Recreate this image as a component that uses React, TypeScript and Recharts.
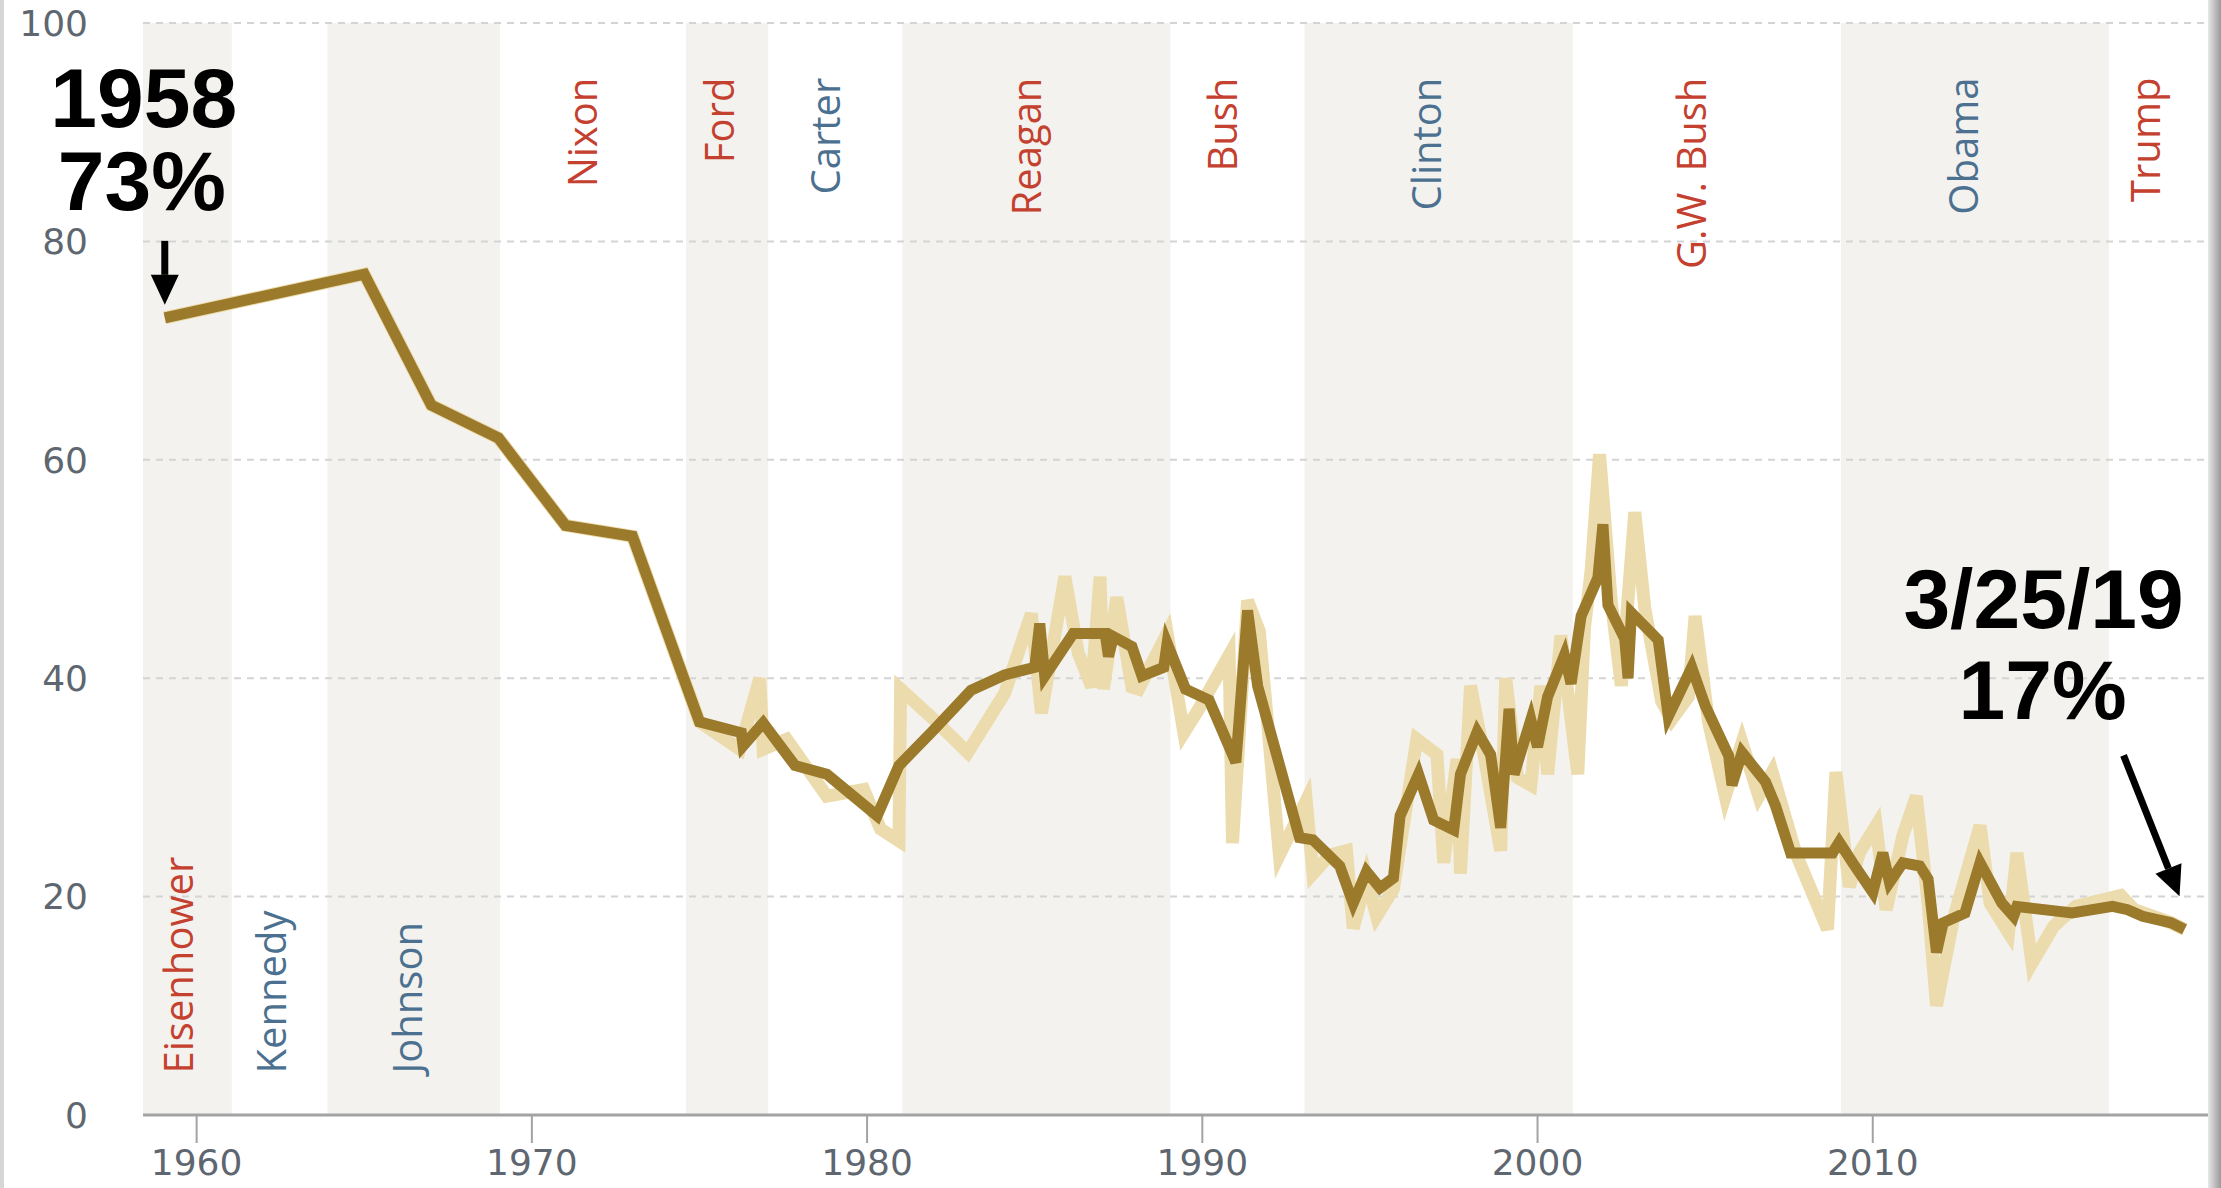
import React from 'react'
import { LineChart, Line, XAxis, YAxis, ReferenceArea, ReferenceLine, ReferenceDot } from 'recharts'

// presidential terms (shaded bands alternate)
const presidents = ['Eisenhower', 'Kennedy', 'Johnson', 'Nixon', 'Ford', 'Carter', 'Reagan', 'Bush', 'Clinton', 'G.W. Bush', 'Obama', 'Trump']
const termStarts = [1958.4, 1961.05, 1963.9, 1969.05, 1974.6, 1977.05, 1981.05, 1989.05, 1993.05, 2001.05, 2009.05, 2017.05]
const termEnd = 2020
const parties = ['R', 'D', 'D', 'R', 'R', 'D', 'R', 'R', 'D', 'R', 'D', 'R']
const labelYears = [1959.45, 1962.25, 1966.3, 1971.5, 1975.6, 1978.75, 1984.75, 1990.6, 1996.7, 2004.6, 2012.7, 2018.15]
const labelAtBottom = [true, true, true, false, false, false, false, false, false, false, false, false]

// moving average (dark line)
const avgYears = [
  1959.05, 1965.0, 1967.0, 1969.0, 1971.0, 1973.0, 1975.0, 1976.25, 1976.3, 1976.9,
  1977.85, 1978.8, 1980.3, 1980.95, 1982.0, 1983.1, 1984.1, 1985.0, 1985.15, 1985.3,
  1986.15, 1987.1, 1987.2, 1987.35, 1987.9, 1988.2, 1988.85, 1988.95, 1989.5, 1990.2,
  1991.0, 1991.35, 1991.65, 1992.9, 1993.3, 1994.1, 1994.5, 1994.9, 1995.3, 1995.7,
  1995.9, 1996.45, 1996.9, 1997.5, 1997.7, 1998.2, 1998.6, 1998.9, 1999.15, 1999.3,
  1999.8, 2000.0, 2000.3, 2000.8, 2001.0, 2001.3, 2001.8, 2001.95, 2002.1, 2002.6,
  2002.7, 2002.8, 2003.6, 2003.9, 2004.6, 2005.0, 2005.7, 2005.8, 2006.1, 2006.8,
  2007.1, 2007.55, 2008.8, 2009.0, 2009.4, 2010.0, 2010.3, 2010.5, 2010.9, 2011.4,
  2011.65, 2011.9, 2012.1, 2012.75, 2013.2, 2013.85, 2014.2, 2014.3, 2015.95, 2017.15,
  2017.6, 2018.05, 2018.9, 2019.3,
]
const avgValues = [
  73, 77, 65, 62, 54, 53, 36, 35, 33.8, 35.9,
  32, 31.2, 27.4, 32, 35.3, 38.9, 40.3, 41, 45, 40.2,
  44.1, 44.1, 42, 43.8, 42.9, 40.2, 41, 43.2, 39, 38,
  32.3, 46.2, 39.3, 25.4, 25.2, 22.8, 19.4, 22.3, 20.8, 21.7,
  27.4, 31.2, 27, 26.1, 31.2, 35.1, 33, 26.3, 37.2, 31.2,
  36.2, 33.7, 38.3, 42.1, 39.5, 45.7, 49.2, 54.1, 46.7, 43.6,
  40, 46, 43.5, 36.5, 41, 37.5, 32.9, 30.2, 33.2, 30.5,
  28.3, 24, 24, 25, 23.1, 20.4, 24, 21.3, 23.1, 22.8,
  21.6, 14.9, 17.6, 18.5, 23.1, 19.4, 18.2, 19.1, 18.5, 19.1,
  18.8, 18.2, 17.6, 17,
]

// individual polls (light line)
const pollYears = [
  1959.05, 1965.0, 1967.0, 1969.0, 1971.0, 1973.0, 1975.0, 1976.2, 1976.8, 1976.9,
  1977.6, 1978.8, 1979.9, 1980.4, 1980.95, 1981.0, 1982.0, 1983.0, 1984.1, 1984.9,
  1985.2, 1985.9, 1986.3, 1986.7, 1986.95, 1987.05, 1987.45, 1987.9, 1988.1, 1988.95,
  1989.45, 1989.9, 1990.8, 1990.9, 1991.35, 1991.7, 1992.3, 1993.1, 1993.3, 1993.8,
  1994.3, 1994.5, 1994.9, 1995.2, 1995.7, 1996.4, 1997.0, 1997.2, 1997.6, 1997.7,
  1998.0, 1998.4, 1998.9, 1999.05, 1999.4, 1999.8, 2000.1, 2000.3, 2000.7, 2001.2,
  2001.4, 2001.6, 2001.85, 2002.2, 2002.5, 2002.9, 2003.2, 2003.7, 2004.0, 2004.5,
  2004.7, 2005.1, 2005.6, 2006.1, 2006.6, 2007.0, 2007.7, 2008.65, 2008.9, 2009.3,
  2009.6, 2010.1, 2010.4, 2010.9, 2011.3, 2011.65, 2011.9, 2012.4, 2013.2, 2013.5,
  2014.05, 2014.3, 2014.75, 2015.4, 2016.05, 2017.4, 2017.8, 2018.9, 2019.3,
]
const pollValues = [
  73, 77, 65, 62, 54, 53, 36, 33.5, 40, 33.5,
  34.4, 29.2, 29.8, 26.2, 25.1, 39, 36.2, 33.2, 38.6, 45.9,
  36.8, 49.3, 42.3, 39.2, 49.3, 39, 47.4, 39.2, 39, 44.1,
  35, 37.2, 42.1, 24.9, 47.1, 44.3, 23.8, 28.8, 22.1, 23.8,
  24.2, 17.1, 21.7, 18.2, 20.7, 34.4, 33, 23.1, 32.6, 22.1,
  39.3, 33, 24.2, 40, 30.9, 30.2, 39.3, 31.2, 43.9, 31.2,
  44.6, 49.9, 60.5, 47, 39.3, 55.2, 46.4, 37.9, 36.2, 38.3,
  45.7, 36, 29.2, 34.1, 29.2, 31.4, 24, 17, 31.4, 20.9,
  24, 26.5, 18.8, 25.6, 29.2, 19.4, 10, 17.9, 26.5, 19.4,
  16.7, 24, 13.9, 17.3, 19.1, 20.1, 18.8, 17.6, 17,
]

const yTicks = [0, 20, 40, 60, 80, 100]
const xTicks = [1960, 1970, 1980, 1990, 2000, 2010]
const startNote = ['1958', '73%']
const endNote = ['3/25/19', '17%']

const avgData = avgYears.map((year, i) => ({ year, value: avgValues[i] }))
const pollData = pollYears.map((year, i) => ({ year, value: pollValues[i] }))

const RED = '#c4402f'
const BLUE = '#4b7090'
const BAND = '#f3f2ee'
const AXIS_TEXT = '#5e6670'

const noteStyle: React.CSSProperties = {
  fontFamily: '"Liberation Sans", Arial, sans-serif',
  fontWeight: 700,
  fontSize: 84,
  fill: '#000',
}

function Arrow({ x1, y1, x2, y2 }: { x1: number; y1: number; x2: number; y2: number }) {
  const dx = x2 - x1
  const dy = y2 - y1
  const len = Math.sqrt(dx * dx + dy * dy)
  const ux = dx / len
  const uy = dy / len
  const head = 30
  const half = 14
  const bx = x2 - ux * head
  const by = y2 - uy * head
  return (
    <g>
      <line x1={x1} y1={y1} x2={bx} y2={by} stroke="#000" strokeWidth={7} />
      <polygon
        points={`${x2},${y2} ${bx - uy * half},${by + ux * half} ${bx + uy * half},${by - ux * half}`}
        fill="#000"
      />
    </g>
  )
}

function StartNote(props: any) {
  const { cx, cy } = props
  return (
    <g>
      <text x={cx - 21} y={cy - 191} textAnchor="middle" style={noteStyle}>{startNote[0]}</text>
      <text x={cx - 23} y={cy - 108} textAnchor="middle" style={noteStyle}>{startNote[1]}</text>
      <Arrow x1={cx} y1={cy - 77} x2={cx} y2={cy - 13} />
    </g>
  )
}

function EndNote(props: any) {
  const { cx, cy } = props
  return (
    <g>
      <text x={cx - 141} y={cy - 301} textAnchor="middle" style={noteStyle}>{endNote[0]}</text>
      <text x={cx - 142} y={cy - 210} textAnchor="middle" style={noteStyle}>{endNote[1]}</text>
      <Arrow x1={cx - 61} y1={cy - 174} x2={cx - 5} y2={cy - 33} />
    </g>
  )
}

function presLabel(i: number) {
  return (props: any) => {
    const { cx, cy } = props
    const bottom = labelAtBottom[i]
    return (
      <text
        transform={`translate(${cx}, ${cy}) rotate(-90)`}
        dy="0.36em"
        textAnchor={bottom ? 'start' : 'end'}
        style={{ fontFamily: '"Open Sans", sans-serif', fontSize: 40, fill: parties[i] === 'R' ? RED : BLUE }}
      >
        {presidents[i]}
      </text>
    )
  }
}

export default function App() {
  return (
    <div style={{ position: 'absolute', left: 0, top: 0, width: 2221, height: 1188, background: '#fff' }}>
      <LineChart width={2221} height={1188} margin={{ top: 23, right: 13, bottom: 0, left: 0 }}>
        {presidents.map((p, i) =>
          i % 2 === 0 ? (
            <ReferenceArea
              key={`band-${p}`}
              x1={termStarts[i]}
              x2={i + 1 < termStarts.length ? termStarts[i + 1] : termEnd}
              fill={BAND}
              fillOpacity={1}
              stroke="none"
            />
          ) : null
        )}
        {yTicks.slice(1).map((t) => (
          <ReferenceLine key={`grid-${t}`} y={t} stroke="#d4d4d4" strokeWidth={2} strokeDasharray="7 6" />
        ))}
        <XAxis
          type="number"
          dataKey="year"
          domain={[termStarts[0], termEnd]}
          allowDataOverflow
          ticks={xTicks}
          height={73}
          tickSize={28}
          tickMargin={6}
          axisLine={{ stroke: '#a3a3a3', strokeWidth: 3 }}
          tickLine={{ stroke: '#a3a3a3', strokeWidth: 2 }}
          tick={{ fill: AXIS_TEXT, fontSize: 36, fontFamily: '"DejaVu Sans", sans-serif' }}
        />
        <YAxis
          type="number"
          domain={[0, 100]}
          ticks={yTicks}
          width={143}
          axisLine={false}
          tickLine={false}
          tickSize={0}
          tickMargin={55}
          tick={{ fill: AXIS_TEXT, fontSize: 36, fontFamily: '"DejaVu Sans", sans-serif' }}
        />
        <Line
          data={pollData}
          dataKey="value"
          type="linear"
          stroke="#ecdcad"
          strokeWidth={13}
          dot={false}
          activeDot={false}
          isAnimationActive={false}
        />
        <Line
          data={avgData}
          dataKey="value"
          type="linear"
          stroke="#9b7a2c"
          strokeWidth={11}
          dot={false}
          activeDot={false}
          isAnimationActive={false}
        />
        {presidents.map((p, i) => (
          <ReferenceDot
            key={`lab-${p}`}
            x={labelYears[i]}
            y={labelAtBottom[i] ? 3.8 : 95}
            r={0}
            shape={presLabel(i)}
          />
        ))}
        <ReferenceDot x={avgYears[0]} y={avgValues[0]} r={0} shape={StartNote} />
        <ReferenceDot
          x={avgYears[avgYears.length - 1]}
          y={avgValues[avgValues.length - 1]}
          r={0}
          shape={EndNote}
        />
      </LineChart>
      <div style={{ position: 'absolute', left: 0, top: 0, width: 4, height: 1188, background: '#d6d6d6' }} />
      <div
        style={{
          position: 'absolute',
          right: 0,
          top: 0,
          width: 13,
          height: 1188,
          background: 'linear-gradient(to right, #e8e8e8, #9a9a9a)',
        }}
      />
    </div>
  )
}
